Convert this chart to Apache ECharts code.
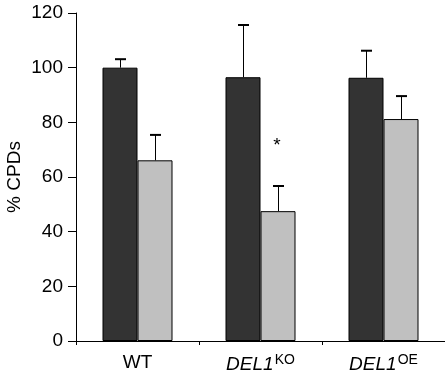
<!DOCTYPE html>
<html>
<head>
<meta charset="utf-8">
<script src="https://cdn.jsdelivr.net/npm/echarts@6/dist/echarts.min.js"></script>
<style>
  html, body { margin: 0; padding: 0; background: #fff; }
  #chart { width: 445px; height: 373px; }
</style>
</head>
<body>
<div id="chart"></div>
<script>
// data
var categories = ['WT', 'DEL1KO', 'DEL1OE'];
var darkValues = [100, 96.5, 96.3];
var darkErrTop = [103.1, 115.6, 106.2];
var lightValues = [66.1, 47.5, 81.2];
var lightErrTop = [75.4, 56.7, 89.6];
var starMarks = [[1, 71.5]]; // [category index, value] for the '*'
var yTicks = { min: 0, max: 120, interval: 20 };

var BAR_W = 35;
var FONT = 'Liberation Sans, Arial, sans-serif';

var errData = [];
for (var i = 0; i < categories.length; i++) {
  errData.push([i, darkValues[i], darkErrTop[i], -1]);
  errData.push([i, lightValues[i], lightErrTop[i], 1]);
}

var myChart = echarts.init(document.getElementById('chart'));
var option = {
  animation: false,
  grid: { left: 76, right: 0, top: 13, bottom: 32, containLabel: false, outerBoundsMode: 'none' },
  xAxis: {
    type: 'category',
    data: categories,
    axisLine: { lineStyle: { color: '#000', width: 1 } },
    axisTick: { show: true, length: 4, lineStyle: { color: '#000' } },
    axisLabel: {
      interval: 0,
      color: '#000',
      fontFamily: FONT,
      fontSize: 19,
      margin: 12,
      formatter: function (v) {
        if (v === 'DEL1KO') return '{it|DEL1}{sup|KO}';
        if (v === 'DEL1OE') return '{it|DEL1}{sup|OE}';
        return v;
      },
      rich: {
        it: { fontStyle: 'italic', fontSize: 19, color: '#000', fontFamily: FONT },
        sup: { fontSize: 14, color: '#000', verticalAlign: 'bottom', padding: [0, 0, 10, 1], fontFamily: FONT }
      }
    }
  },
  yAxis: {
    type: 'value',
    min: yTicks.min,
    max: yTicks.max,
    interval: yTicks.interval,
    name: '% CPDs',
    nameLocation: 'middle',
    nameRotate: 90,
    nameGap: 52,
    nameMoveOverlap: false,
    nameTextStyle: { color: '#000', fontSize: 19, fontFamily: FONT },
    splitLine: { show: false },
    axisLine: { show: true, lineStyle: { color: '#000', width: 1 } },
    axisTick: { show: true, length: 8, lineStyle: { color: '#000' } },
    axisLabel: { color: '#000', fontSize: 19, margin: 13, fontFamily: FONT }
  },
  series: [
    {
      type: 'bar',
      data: darkValues,
      barWidth: BAR_W,
      barGap: '0%',
      itemStyle: { color: '#333333', borderColor: '#000', borderWidth: 1 }
    },
    {
      type: 'bar',
      data: lightValues,
      barWidth: BAR_W,
      itemStyle: { color: '#c0c0c0', borderColor: '#000', borderWidth: 1 }
    },
    {
      type: 'custom',
      data: errData,
      z: 5,
      renderItem: function (params, api) {
        var base = api.coord([api.value(0), api.value(1)]);
        var top = api.coord([api.value(0), api.value(2)]);
        var x = Math.round(base[0] + api.value(3) * BAR_W / 2) + 0.5;
        var cap = 5.5;
        return {
          type: 'group',
          children: [
            { type: 'line', shape: { x1: x, y1: base[1], x2: x, y2: top[1] }, style: { stroke: '#000', lineWidth: 1 } },
            { type: 'line', shape: { x1: x - cap, y1: top[1], x2: x + cap, y2: top[1] }, style: { stroke: '#000', lineWidth: 2 } }
          ]
        };
      }
    },
    {
      type: 'custom',
      data: starMarks,
      z: 5,
      renderItem: function (params, api) {
        var p = api.coord([api.value(0), api.value(1)]);
        return {
          type: 'text',
          x: p[0] + BAR_W / 2 - 1,
          y: p[1],
          style: { text: '*', fill: '#000', fontSize: 19, align: 'center', verticalAlign: 'middle', fontFamily: FONT }
        };
      }
    }
  ]
};
myChart.setOption(option);
</script>
</body>
</html>
